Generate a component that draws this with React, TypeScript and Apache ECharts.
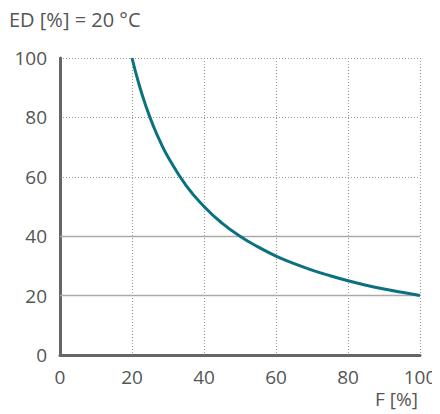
import React, { useEffect, useRef } from "react";
import * as echarts from "echarts";

const fValues = [20, 22, 24, 26, 28, 30, 35, 40, 45, 50, 55, 60, 65, 70, 75, 80, 85, 90, 95, 100];
const edValues = [100, 90.9, 83.3, 76.9, 71.4, 66.7, 57.1, 50, 44.4, 40, 36.4, 33.3, 30.8, 28.6, 26.7, 25, 23.5, 22.2, 21.1, 20];
const solidLines = [20, 40];
const titleText = "ED [%] = 20 °C";
const xName = "F [%]";

export default function App() {
  const ref = useRef<HTMLDivElement>(null);
  useEffect(() => {
    if (!ref.current) return;
    const chart = echarts.init(ref.current, undefined, { renderer: "svg" });
    const font = "'Open Sans', 'Noto Sans', sans-serif";
    const textColor = "#555";
    const fs = 19;
    chart.setOption({
      animation: false,
      textStyle: { fontFamily: font },
      grid: { left: 60, right: 20, top: 58, bottom: 59 },
      graphic: [
        {
          type: "text",
          left: 9,
          top: 9,
          style: { text: titleText, fontSize: 20, fill: textColor, fontFamily: font },
        },
        {
          type: "text",
          right: 22,
          top: 389,
          style: { text: xName, fontSize: fs, fill: textColor, fontFamily: font },
        },
      ],
      xAxis: {
        type: "value",
        min: 0,
        max: 100,
        interval: 20,
        axisLine: { show: true, lineStyle: { color: "#666", width: 3 } },
        axisTick: { show: false },
        axisLabel: { color: textColor, fontSize: fs, margin: 12, fontFamily: font },
        splitLine: {
          show: true,
          lineStyle: { color: "#999", width: 1, type: [1, 2] },
        },
      },
      yAxis: {
        type: "value",
        min: 0,
        max: 100,
        interval: 20,
        axisLine: { show: true, lineStyle: { color: "#666", width: 3 } },
        axisTick: { show: false },
        axisLabel: { color: textColor, fontSize: fs, margin: 13, fontFamily: font },
        splitLine: {
          show: true,
          lineStyle: { color: "#999", width: 1, type: [1, 2] },
        },
      },
      series: [
        {
          type: "line",
          data: fValues.map((f, i) => [f, edValues[i]]),
          smooth: true,
          showSymbol: false,
          symbol: "none",
          lineStyle: { color: "#0b7181", width: 3 },
          z: 5,
          markLine: {
            silent: true,
            symbol: "none",
            label: { show: false },
            lineStyle: { color: "#aaa", width: 1.3, type: "solid" },
            data: solidLines.map((v) => ({ yAxis: v })),
            z: 1,
          },
        },
      ],
    });
    return () => chart.dispose();
  }, []);
  return <div ref={ref} style={{ width: 440, height: 414, marginLeft: -8, marginTop: -8 }} />;
}
